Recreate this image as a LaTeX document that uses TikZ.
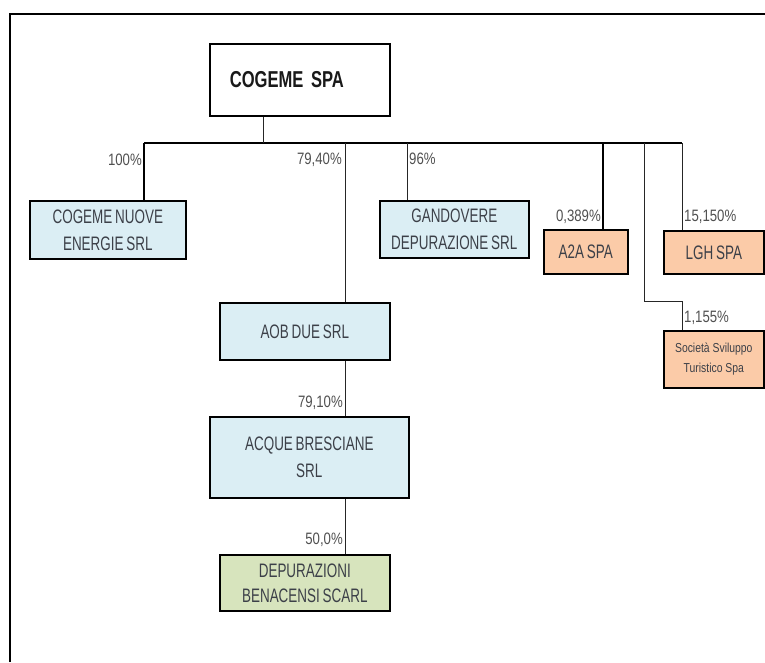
\documentclass[tikz,border=0pt]{standalone}
\usepackage{fontspec}
\usepackage{xcolor}
\usepackage{tikz}
\usetikzlibrary{
    positioning,
    calc
}
\newfontfamily\boxfont[FakeStretch=0.69, WordSpace=0.75]{Liberation Sans}
\newfontfamily\rootfont[UprightFont=* Bold, FakeStretch=0.72, WordSpace=0.5]{Liberation Sans}
\newfontfamily\pctfont[FakeStretch=0.8]{Liberation Sans}
\definecolor{orgblue}{HTML}{DBEEF4}
\definecolor{orgorange}{HTML}{FBCBA8}
\definecolor{orggreen}{HTML}{D7E4BD}
\definecolor{orgtext}{HTML}{3C4048}
\definecolor{orglabel}{HTML}{505050}
\tikzset{
    % Company box
    orgbox/.style={
        rectangle,
        draw=black,
        fill=#1,
        line width=1.6pt,
        text=orgtext,
        font=\boxfont\fontsize{19.5}{27}\selectfont,
        align=center,
        inner sep=0pt,
        anchor=north west
    },
    orgbox/.default=orgblue,
    % Root box
    rootbox/.style={
        orgbox=white,
        text=black!90,
        font=\rootfont\fontsize{23}{25}\selectfont,
        align=left
    },
    % Percentage label
    pctlabel/.style={
        text=orglabel,
        font=\pctfont\fontsize{16.5}{18}\selectfont,
        inner sep=0pt
    },
    % Connector lines
    orgline/.style={
        draw=black!85,
        line width=0.9pt
    },
    orgthick/.style={
        draw=black,
        line width=1.8pt
    }
}
\begin{document}
\begin{tikzpicture}[x=1pt, y=-1pt]
    \useasboundingbox (0,0) rectangle (765,662);
    % frame
    \draw[line width=2pt] (10,662) -- (10,14) -- (765,14);

    % boxes
    \node[rootbox, minimum width=180, minimum height=72, text width=140, inner xsep=20] (cogeme) at (209,43) {COGEME SPA};
    \node[orgbox, minimum width=156, minimum height=58] (nuove) at (29,200) {COGEME NUOVE\\ENERGIE SRL};
    \node[orgbox, minimum width=149, minimum height=57] (gandovere) at (379,200) {GANDOVERE\\DEPURAZIONE SRL};
    \node[orgbox=orgorange, minimum width=84, minimum height=44] (a2a) at (543,229) {A2A SPA};
    \node[orgbox=orgorange, minimum width=100, minimum height=43] (lgh) at (663,230) {LGH SPA};
    \node[orgbox=orgorange, minimum width=100, minimum height=57, font=\pctfont\fontsize{13}{20}\selectfont] (sts) at (663,330) {Società Sviluppo\\Turistico Spa};
    \node[orgbox, minimum width=170, minimum height=57] (aob) at (219,302) {AOB DUE SRL};
    \node[orgbox, minimum width=199, minimum height=81] (acque) at (209,416) {ACQUE BRESCIANE\\SRL};
    \node[orgbox=orggreen, minimum width=170, minimum height=56, font=\boxfont\fontsize{19.5}{25}\selectfont] (depur) at (219,554) {DEPURAZIONI\\BENACENSI SCARL};

    % bus
    \coordinate (bus-l) at (144,143);
    \coordinate (bus-r) at (682,143);
    \coordinate (root-drop) at (263,143);
    \coordinate (aob-drop) at (345,143);
    \coordinate (gand-drop) at (407,143);
    \coordinate (a2a-drop) at (603,143);
    \coordinate (sts-drop) at (644,143);
    \draw[orgthick] (bus-l) -- (bus-r);
    \draw[orgline] (cogeme.south -| root-drop) -- (root-drop);

    % connectors
    \draw[orgthick] (bus-l) -- (bus-l |- nuove.north);
    \draw[orgline] (aob-drop) -- (aob-drop |- aob.north);
    \draw[orgline] (aob.south -| aob-drop) -- (acque.north -| aob-drop);
    \draw[orgline] (acque.south -| aob-drop) -- (depur.north -| aob-drop);
    \draw[orgline] (gand-drop) -- (gand-drop |- gandovere.north);
    \draw[orgthick] (a2a-drop) -- (a2a-drop |- a2a.north);
    \draw[orgline] (bus-r) -- (bus-r |- lgh.north);
    \draw[orgline] (sts-drop) |- ([yshift=29pt]sts.north -| bus-r) -- (sts.north -| bus-r);

    % percentages
    \node[pctlabel, anchor=east] (p-nuove) at (142,160) {100\%};
    \node[pctlabel, anchor=east] (p-aob) at (342,160) {79,40\%};
    \node[pctlabel, anchor=west] (p-gand) at (409,159) {96\%};
    \node[pctlabel, anchor=east] (p-a2a) at (601,217) {0,389\%};
    \node[pctlabel, anchor=west] (p-lgh) at (684,217) {15,150\%};
    \node[pctlabel, anchor=west] (p-sts) at (684,318) {1,155\%};
    \node[pctlabel, anchor=east] (p-acque) at (343,403) {79,10\%};
    \node[pctlabel, anchor=east] (p-depur) at (343,540) {50,0\%};
\end{tikzpicture}
\end{document}
